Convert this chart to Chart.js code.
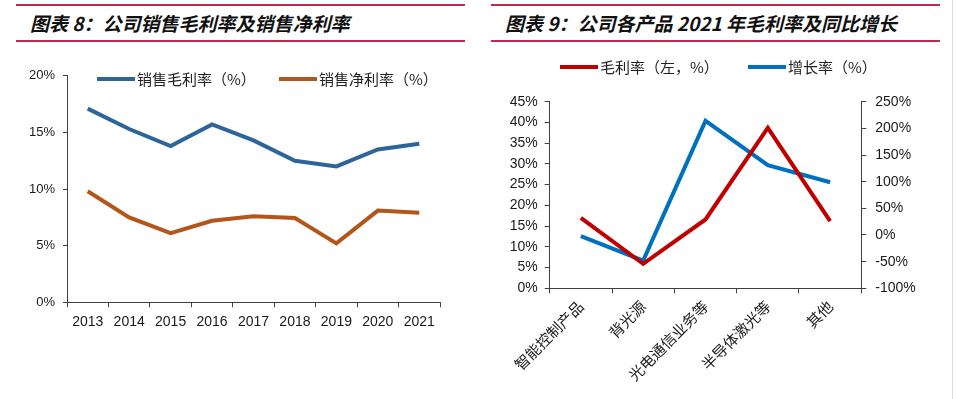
<!DOCTYPE html>
<html>
<head>
<meta charset="utf-8">
<script src="https://cdn.jsdelivr.net/npm/chart.js@4/dist/chart.umd.min.js"></script>
<style>
  body { margin: 0; background: #fff; width: 956px; height: 399px; position: relative; overflow: hidden; }
  .title {
    position: absolute; top: 4px; height: 34px;
    border-top: 2px solid #c02a4b; border-bottom: 2px solid #c02a4b;
    font: italic 700 19px "Noto Sans CJK SC", sans-serif; color: #111;
    line-height: 34px; padding-left: 14px; box-sizing: content-box;
  }
  .wrap { position: absolute; }
  #edge { position: absolute; left: 952px; top: 0; width: 1px; height: 399px; background: #d9d9d9; }
</style>
</head>
<body>
<div class="title" style="left:16px;width:435px;">图表 8：公司销售毛利率及销售净利率</div>
<div class="title" style="left:491px;width:435px;">图表 9：公司各产品 2021 年毛利率及同比增长</div>
<div id="edge"></div>
<div class="wrap" style="left:0;top:60px;"><canvas id="marginChart" width="478" height="339"></canvas></div>
<div class="wrap" style="left:478px;top:50px;"><canvas id="productChart" width="474" height="349"></canvas></div>
<script>
const years = ['2013', '2014', '2015', '2016', '2017', '2018', '2019', '2020', '2021'];
const grossMargin = [17.1, 15.3, 13.8, 15.7, 14.3, 12.5, 12.0, 13.5, 14.0];
const netMargin = [9.8, 7.5, 6.1, 7.2, 7.6, 7.45, 5.2, 8.1, 7.9];

const products = ['智能控制产品', '背光源', '光电通信业务等', '半导体激光等', '其他'];
const productMargin = [17.0, 5.9, 16.6, 38.7, 16.2];
const productGrowth = [-2, -48, 214, 131, 99];

const axisColor = '#404040';
const tickColor = '#1a1a1a';

// draws a legend line + label at fixed spots given in plugin options
const lineLegend = {
  id: 'lineLegend',
  afterDraw(chart, args, opts) {
    const ctx = chart.ctx;
    ctx.save();
    ctx.font = '15px "Noto Sans CJK SC", sans-serif';
    ctx.fillStyle = '#222';
    ctx.textBaseline = 'middle';
    chart.data.datasets.forEach((ds, i) => {
      const x = opts.xs[i];
      ctx.strokeStyle = ds.borderColor;
      ctx.lineWidth = 4;
      ctx.beginPath();
      ctx.moveTo(x, opts.y);
      ctx.lineTo(x + 38, opts.y);
      ctx.stroke();
      ctx.fillText(ds.label, x + 40, opts.y);
    });
    ctx.restore();
  }
};

function pct(v) { return v + '%'; }

new Chart(document.getElementById('marginChart').getContext('2d'), {
  type: 'line',
  data: {
    labels: years,
    datasets: [
      {label: '销售毛利率（%）', data: grossMargin, borderColor: '#2d659b', borderWidth: 4, pointRadius: 0, tension: 0},
      {label: '销售净利率（%）', data: netMargin, borderColor: '#b3561b', borderWidth: 4, pointRadius: 0, tension: 0}
    ]
  },
  options: {
    responsive: false,
    animation: false,
    layout: {padding: {top: 15.7, right: 38, left: 0, bottom: 0}},
    plugins: {
      legend: {display: false},
      tooltip: {enabled: false},
      lineLegend: {xs: [97, 279], y: 19}
    },
    scales: {
      x: {
        offset: true,
        grid: {offset: true, drawOnChartArea: false, drawTicks: true, tickLength: 5, color: axisColor},
        border: {color: axisColor},
        ticks: {color: tickColor, font: {family: 'Liberation Sans', size: 14}, padding: 6, maxRotation: 0},
        afterFit: s => { s.height = 96.7; }
      },
      y: {
        min: 0, max: 20,
        grid: {drawOnChartArea: false, drawTicks: true, tickLength: 4, color: axisColor},
        border: {color: axisColor},
        ticks: {stepSize: 5, callback: pct, color: tickColor, font: {family: 'Liberation Sans', size: 13}, padding: 8},
        afterFit: s => { s.width = 67; }
      }
    }
  },
  plugins: [lineLegend]
});

new Chart(document.getElementById('productChart').getContext('2d'), {
  type: 'line',
  data: {
    labels: products,
    datasets: [
      {label: '毛利率（左，%）', data: productMargin, yAxisID: 'y', borderColor: '#c00000', borderWidth: 4, pointRadius: 0, tension: 0},
      {label: '增长率（%）', data: productGrowth, yAxisID: 'y1', borderColor: '#0070c0', borderWidth: 4, pointRadius: 0, tension: 0}
    ]
  },
  options: {
    responsive: false,
    animation: false,
    layout: {padding: {top: 51.7, right: 0, left: 0, bottom: 0}},
    plugins: {
      legend: {display: false},
      tooltip: {enabled: false},
      lineLegend: {xs: [82, 270], y: 17}
    },
    scales: {
      x: {
        offset: true,
        grid: {offset: true, drawOnChartArea: false, drawTicks: true, tickLength: 5, color: axisColor},
        border: {color: axisColor},
        ticks: {color: tickColor, font: {family: 'Noto Sans CJK SC', size: 15}, padding: 4,
                minRotation: 45, maxRotation: 45, autoSkip: false},
        afterFit: s => { s.height = 110.7; }
      },
      y: {
        position: 'left',
        min: 0, max: 45,
        grid: {drawOnChartArea: false, drawTicks: true, tickLength: 5, color: axisColor},
        border: {color: axisColor},
        ticks: {stepSize: 5, callback: pct, color: tickColor, font: {family: 'Liberation Sans', size: 14}, padding: 7},
        afterFit: s => { s.width = 71.7; }
      },
      y1: {
        position: 'right',
        min: -100, max: 250,
        grid: {drawOnChartArea: false, drawTicks: true, tickLength: 5, color: axisColor},
        border: {color: axisColor},
        ticks: {stepSize: 50, callback: pct, color: tickColor, font: {family: 'Liberation Sans', size: 14}, padding: 9},
        afterFit: s => { s.width = 90.7; }
      }
    }
  },
  plugins: [lineLegend]
});
</script>
</body>
</html>
